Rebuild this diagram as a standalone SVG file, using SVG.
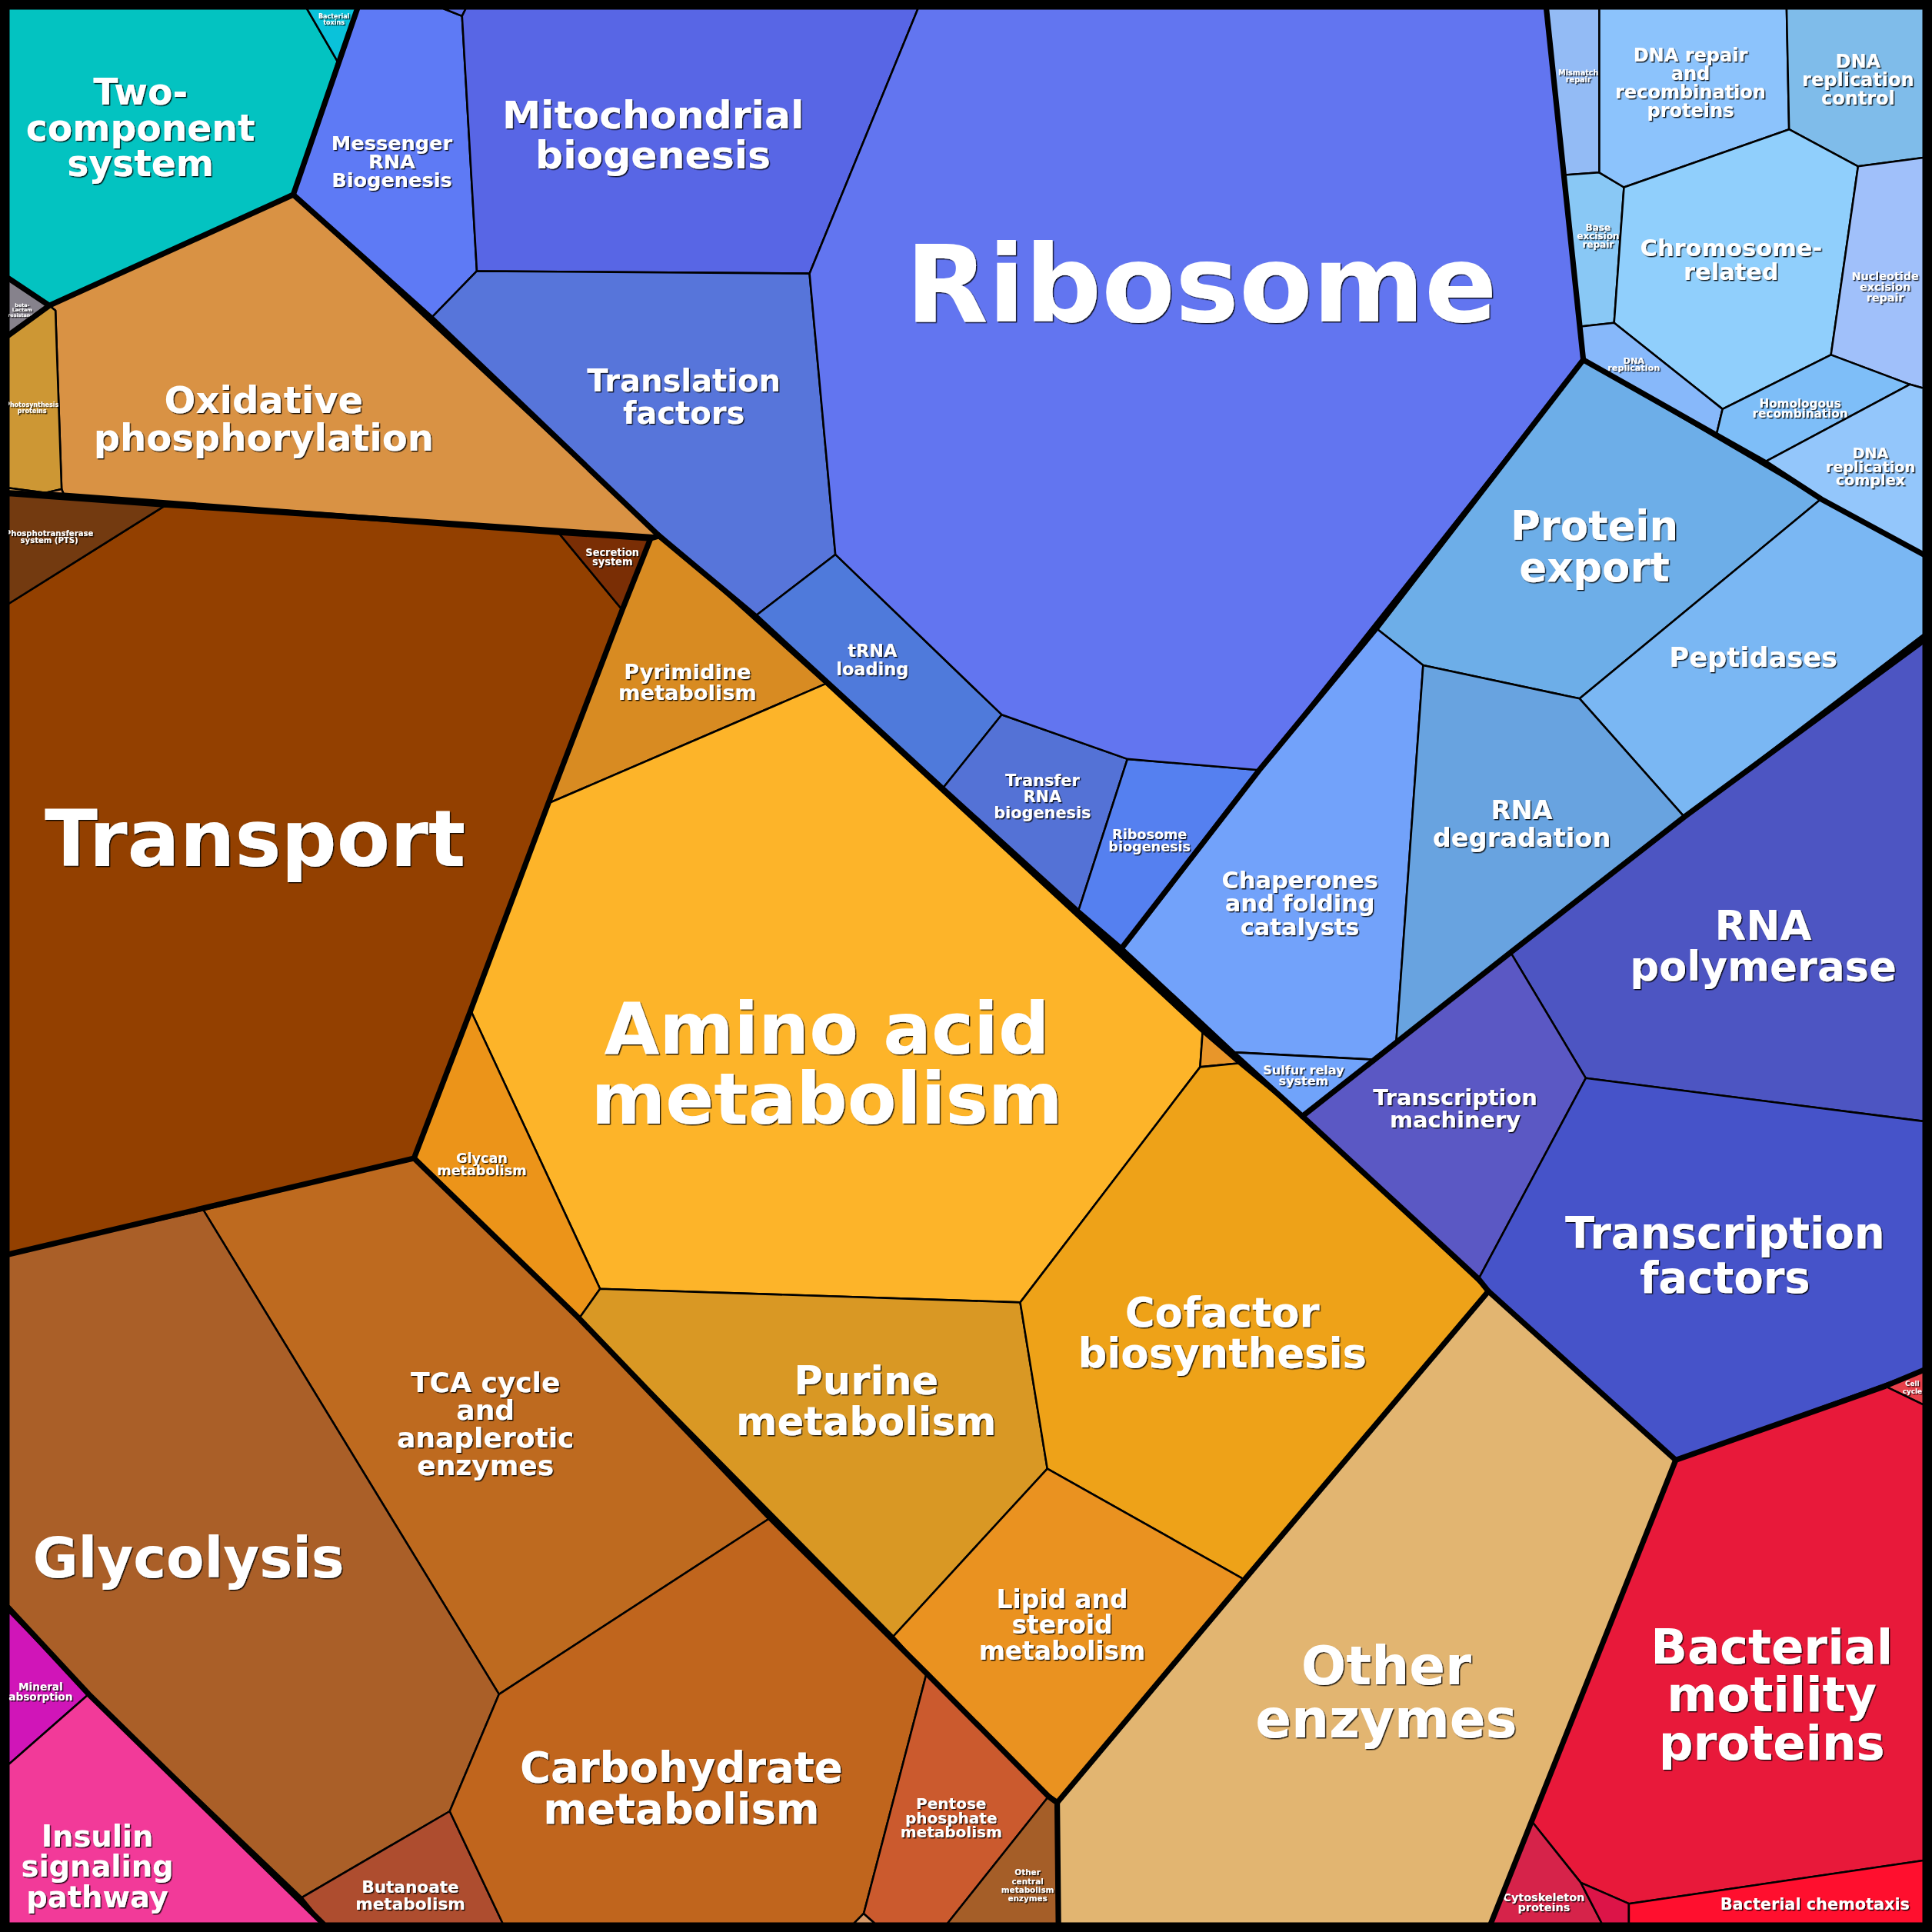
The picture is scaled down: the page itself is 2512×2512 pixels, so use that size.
<svg xmlns="http://www.w3.org/2000/svg" width="2512" height="2512" viewBox="0 0 2512 2512">
<defs>
<style>
polygon{stroke:#000;stroke-width:1.6;stroke-linejoin:round}
.b{fill:none;stroke:#000;stroke-width:4.5;stroke-linejoin:round;stroke-linecap:round}
text{font-family:"DejaVu Sans",Verdana,sans-serif;font-weight:bold;fill:#fff;text-anchor:middle;filter:url(#sh)}
.c{font-family:"DejaVu Sans Condensed","DejaVu Sans",sans-serif}
</style>
<filter id="sh" x="-10%" y="-10%" width="120%" height="130%"><feDropShadow dx="0.9" dy="0.9" stdDeviation="0.4" flood-color="#000" flood-opacity="0.85"/></filter>
</defs>
<rect width="2512" height="2512" fill="#000"/>
<g transform="scale(1.60204)">
<g id="two-component"><polygon fill="#03C3C1" points="7,7 249,7 274,50 238,158 40,248 7,226"/><text font-size="29.5" x="114" y="85">Two-</text><text font-size="29.5" x="114" y="114">component</text><text font-size="29.5" x="114" y="143">system</text></g>
<g id="bacterial-toxins"><polygon fill="#0AC2DA" points="249,7 290,7 274,50"/><text font-size="5" x="271" y="15">Bacterial</text><text font-size="5" x="271" y="20">toxins</text></g>
<g id="beta-lactam"><polygon fill="#86828C" points="7,226 40,248 7,272"/><text font-size="4" x="18" y="249">beta-</text><text font-size="4" x="18" y="253">Lactam</text><text font-size="4" x="18" y="257">resistance</text></g>
<g id="messenger-rna"><polygon fill="#5E7AF5" points="290,7 360,7 375,13 387,220 350,258 238,158 274,50"/><text font-size="16" x="318" y="122">Messenger</text><text font-size="16" x="318" y="137">RNA</text><text font-size="16" x="318" y="152">Biogenesis</text></g>
<g id="tiny-top"><polygon fill="#5E70E8" points="360,7 378,7 375,13"/></g>
<g id="mitochondrial"><polygon fill="#5866E5" points="375,13 378,7 745,7 657,222 387,220"/><text font-size="31.5" x="530" y="104">Mitochondrial</text><text font-size="31.5" x="530" y="137">biogenesis</text></g>
<g id="translation-factors"><polygon fill="#5775DA" points="387,220 657,222 678,450 613,500 535,435 350,258"/><text font-size="25" x="555" y="318">Translation</text><text font-size="25" x="555" y="344">factors</text></g>
<g id="trna-loading"><polygon fill="#4F7ADB" points="613,500 678,450 813,580 765,640"/><text font-size="14" x="708" y="533">tRNA</text><text font-size="14" x="708" y="548">loading</text></g>
<g id="transfer-rna"><polygon fill="#5472D6" points="765,640 813,580 915,616 875,740"/><text font-size="13" x="846" y="638">Transfer</text><text font-size="13" x="846" y="651">RNA</text><text font-size="13" x="846" y="664">biogenesis</text></g>
<g id="ribosome-biogenesis"><polygon fill="#5580F0" points="875,740 915,616 1022,625 910,770"/><text font-size="11" x="933" y="681">Ribosome</text><text font-size="11" x="933" y="691">biogenesis</text></g>
<g id="ribosome"><polygon fill="#6275F0" points="745,7 1255,7 1285,292 1022,625 915,616 813,580 678,450 657,222"/><text font-size="87" x="975" y="261">Ribosome</text></g>
<g id="mismatch"><polygon fill="#93BBF5" points="1255,7 1298,7 1298,140 1270,142"/><text font-size="6" x="1281" y="61">Mismatch</text><text font-size="6" x="1281" y="67">repair</text></g>
<g id="base-excision"><polygon fill="#89C8F5" points="1270,142 1298,140 1318,152 1310,262 1283,265"/><text font-size="7.5" x="1297" y="187">Base</text><text font-size="7.5" x="1297" y="194">excision</text><text font-size="7.5" x="1297" y="201">repair</text></g>
<g id="dna-repair"><polygon fill="#8CC3FC" points="1298,7 1450,7 1452,105 1318,152 1298,140"/><text font-size="15" x="1372" y="50">DNA repair</text><text font-size="15" x="1372" y="65">and</text><text font-size="15" x="1372" y="80">recombination</text><text font-size="15" x="1372" y="95">proteins</text></g>
<g id="dna-replication-control"><polygon fill="#7FBCEA" points="1450,7 1561,7 1561,128 1508,135 1452,105"/><text font-size="15" x="1508" y="55">DNA</text><text font-size="15" x="1508" y="70">replication</text><text font-size="15" x="1508" y="85">control</text></g>
<g id="chromosome"><polygon fill="#90CFFC" points="1318,152 1452,105 1508,135 1486,288 1398,332 1310,262"/><text font-size="19" x="1405" y="208">Chromosome-</text><text font-size="19" x="1405" y="227">related</text></g>
<g id="nucleotide-excision"><polygon fill="#A0C0FA" points="1508,135 1561,128 1561,315 1550,312 1486,288"/><text font-size="9" x="1530" y="227">Nucleotide</text><text font-size="9" x="1530" y="236">excision</text><text font-size="9" x="1530" y="245">repair</text></g>
<g id="dna-replication"><polygon fill="#87B8FA" points="1283,265 1310,262 1398,332 1393,353 1285,292"/><text font-size="7" x="1326" y="295">DNA</text><text font-size="7" x="1326" y="301">replication</text></g>
<g id="homologous"><polygon fill="#7EBEF8" points="1398,332 1486,288 1550,312 1432,375 1393,353"/><text font-size="9.5" x="1461" y="331">Homologous</text><text font-size="9.5" x="1461" y="339">recombination</text></g>
<g id="dna-replication-complex"><polygon fill="#93C6FB" points="1432,375 1550,312 1561,315 1561,450 1478,405"/><text font-size="12" x="1518" y="372">DNA</text><text font-size="12" x="1518" y="383">replication</text><text font-size="12" x="1518" y="394">complex</text></g>
<g id="protein-export"><polygon fill="#6DAEE8" points="1285,292 1478,405 1282,567 1155,540 1117,510"/><text font-size="33" x="1294" y="438">Protein</text><text font-size="33" x="1294" y="472">export</text></g>
<g id="peptidases"><polygon fill="#7AB7F3" points="1478,405 1561,450 1561,515 1367,663 1282,567"/><text font-size="22" x="1423" y="541">Peptidases</text></g>
<g id="chaperones"><polygon fill="#72A2FA" points="1117,510 1155,540 1133,848 1116,860 1000,854 910,770 1022,625"/><text font-size="19" x="1055" y="721">Chaperones</text><text font-size="19" x="1055" y="740">and folding</text><text font-size="19" x="1055" y="759">catalysts</text></g>
<g id="sulfur-relay"><polygon fill="#70A3FA" points="1000,854 1116,860 1057,906"/><text font-size="10" x="1058" y="872">Sulfur relay</text><text font-size="10" x="1058" y="881">system</text></g>
<g id="rna-degradation"><polygon fill="#68A3E0" points="1155,540 1282,567 1367,663 1226,773 1133,848"/><text font-size="21" x="1235" y="665">RNA</text><text font-size="21" x="1235" y="687">degradation</text></g>
<g id="rna-polymerase"><polygon fill="#4D55C2" points="1226,773 1367,663 1561,520 1561,910 1287,875"/><text font-size="33" x="1431" y="763">RNA</text><text font-size="33" x="1431" y="796">polymerase</text></g>
<g id="transcription-machinery"><polygon fill="#5B58C4" points="1057,906 1226,773 1287,875 1200,1038"/><text font-size="18" x="1181" y="897">Transcription</text><text font-size="18" x="1181" y="915">machinery</text></g>
<g id="transcription-factors"><polygon fill="#4653C9" points="1287,875 1561,910 1561,1112 1360,1185 1208,1048 1200,1038"/><text font-size="35" x="1400" y="1013">Transcription</text><text font-size="35" x="1400" y="1049">factors</text></g>
<g id="cell-cycle"><polygon fill="#E8404A" points="1530,1125 1561,1112 1561,1140"/><text font-size="5.5" x="1552" y="1125">Cell</text><text font-size="5.5" x="1552" y="1131">cycle</text></g>
<g id="bacterial-motility"><polygon fill="#E8193A" points="1360,1185 1530,1125 1561,1140 1561,1510 1322,1545 1283,1528 1243,1478"/><text font-size="39" x="1438" y="1350">Bacterial</text><text font-size="39" x="1438" y="1389">motility</text><text font-size="39" x="1438" y="1428">proteins</text></g>
<g id="cytoskeleton"><polygon fill="#D6234A" points="1243,1478 1283,1528 1300,1561 1210,1561"/><text font-size="9" x="1253" y="1543">Cytoskeleton</text><text font-size="9" x="1253" y="1551">proteins</text></g>
<g id="tiny-motility"><polygon fill="#DC1448" points="1283,1528 1322,1545 1322,1561 1300,1561"/></g>
<g id="bacterial-chemotaxis"><polygon fill="#FF0F2E" points="1322,1545 1561,1510 1561,1561 1322,1561"/><text font-size="13" x="1473" y="1550">Bacterial chemotaxis</text></g>
<g id="other-enzymes"><polygon fill="#E2B571" points="858,1463 1010,1282 1208,1048 1360,1185 1210,1561 859,1561"/><text font-size="43" x="1125" y="1367">Other</text><text font-size="43" x="1125" y="1410">enzymes</text></g>
<g id="pyrimidine"><polygon fill="#D88B22" points="535,433 670,555 445,652 505,495 528,437"/><text font-size="17" x="558" y="551">Pyrimidine</text><text font-size="17" x="558" y="568">metabolism</text></g>
<g id="amino-acid"><polygon fill="#FDB429" points="445,652 670,555 976,838 974,866 828,1057 487,1046 382,820"/><text font-size="58" x="671" y="855">Amino acid</text><text font-size="58" x="671" y="912">metabolism</text></g>
<g id="tiny-aa"><polygon fill="#E8962A" points="976,838 1005,863 974,866"/></g>
<g id="glycan"><polygon fill="#EC9419" points="382,820 487,1046 470,1070 336,940"/><text font-size="11" x="391" y="944">Glycan</text><text font-size="11" x="391" y="954">metabolism</text></g>
<g id="purine"><polygon fill="#D99824" points="487,1046 828,1057 850,1192 725,1328 470,1070"/><text font-size="32" x="703" y="1132">Purine</text><text font-size="32" x="703" y="1165">metabolism</text></g>
<g id="cofactor"><polygon fill="#EEA218" points="828,1057 974,866 1005,863 1057,906 1208,1048 1010,1282 850,1192"/><text font-size="33" x="992" y="1077">Cofactor</text><text font-size="33" x="992" y="1110">biosynthesis</text></g>
<g id="lipid"><polygon fill="#EA9220" points="850,1192 1010,1282 858,1463 752,1358 725,1328"/><text font-size="20.5" x="862" y="1305">Lipid and</text><text font-size="20.5" x="862" y="1326">steroid</text><text font-size="20.5" x="862" y="1347">metabolism</text></g>
<g id="tca"><polygon fill="#BE6A1F" points="336,940 470,1070 625,1232 405,1375 165,982"/><text font-size="22.5" x="394" y="1130">TCA cycle</text><text font-size="22.5" x="394" y="1152">and</text><text font-size="22.5" x="394" y="1175">anaplerotic</text><text font-size="22.5" x="394" y="1197">enzymes</text></g>
<g id="glycolysis"><polygon fill="#AA5F28" points="7,1018 165,982 405,1375 365,1470 245,1540 72,1375 7,1308"/><text font-size="45" x="153" y="1280">Glycolysis</text></g>
<g id="butanoate"><polygon fill="#AE4D2F" points="245,1540 365,1470 408,1561 262,1561"/><text font-size="13.5" x="333" y="1536">Butanoate</text><text font-size="13.5" x="333" y="1550">metabolism</text></g>
<g id="carbohydrate"><polygon fill="#C0651D" points="405,1375 625,1232 752,1358 701,1553 693,1561 408,1561 365,1470"/><text font-size="34" x="553" y="1446">Carbohydrate</text><text font-size="34" x="553" y="1480">metabolism</text></g>
<g id="tiny-carb"><polygon fill="#D89A68" points="701,1553 710,1561 693,1561"/></g>
<g id="pentose"><polygon fill="#CB5A2E" points="752,1358 851,1458 769,1561 710,1561 701,1553"/><text font-size="12.5" x="772" y="1468">Pentose</text><text font-size="12.5" x="772" y="1480">phosphate</text><text font-size="12.5" x="772" y="1491">metabolism</text></g>
<g id="other-central"><polygon fill="#A55E28" points="851,1458 858,1463 859,1561 769,1561"/><text font-size="6.5" x="834" y="1522">Other</text><text font-size="6.5" x="834" y="1529">central</text><text font-size="6.5" x="834" y="1536">metabolism</text><text font-size="6.5" x="834" y="1543">enzymes</text></g>
<g id="transport"><polygon fill="#934000" points="133,411 453,432 505,495 445,652 382,820 336,940 7,1018 7,490"/><text font-size="63" x="207" y="703">Transport</text></g>
<g id="pts"><polygon fill="#733A10" points="7,402 133,411 7,490"/><text class="c" font-size="7" x="40" y="435">Phosphotransferase</text><text class="c" font-size="7" x="40" y="441">system (PTS)</text></g>
<g id="secretion"><polygon fill="#7A2E05" points="453,432 528,437 505,495"/><text class="c" font-size="9" x="497" y="451">Secretion</text><text class="c" font-size="9" x="497" y="459">system</text></g>
<g id="oxidative"><polygon fill="#D99244" points="40,248 238,158 535,435 52,402 50,397 45,252"/><text font-size="30" x="214" y="335">Oxidative</text><text font-size="30" x="214" y="366">phosphorylation</text></g>
<g id="photosynthesis"><polygon fill="#CD9734" points="7,272 40,248 45,252 50,397 37,400 7,396"/><text font-size="5" x="26" y="330">Photosynthesis</text><text font-size="5" x="26" y="335">proteins</text></g>
<g id="tiny-ox"><polygon fill="#D8A050" points="7,396 37,400 7,401"/><polygon fill="#E09A60" points="37,400 50,397 52,402"/></g>
<g id="mineral"><polygon fill="#D015B8" points="7,1308 72,1375 7,1432"/><text font-size="8.5" x="33" y="1372">Mineral</text><text font-size="8.5" x="33" y="1380">absorption</text></g>
<g id="insulin"><polygon fill="#F23A99" points="7,1432 72,1375 262,1561 7,1561"/><text font-size="24" x="79" y="1499">Insulin</text><text font-size="24" x="79" y="1523">signaling</text><text font-size="24" x="79" y="1548">pathway</text></g>
<g id="connectors">
<path class="b" d="M290,7 L238,158 L40,248 L7,226 M40,248 L7,272"/>
<path class="b" d="M238,158 L350,258 L535,435 L613,500 L765,640 L875,740 L910,770 L1000,854 L1057,906 L1200,1038 L1208,1048 L1360,1185 L1530,1125 L1561,1112"/>
<path class="b" d="M7,400 L52,402 L453,432 L528,437 L535,435 M528,437 L505,495 L445,652 L382,820 L336,940 L7,1018"/>
<path class="b" d="M336,940 L470,1070 L625,1232 L752,1358 L851,1458 L858,1463 L859,1561"/>
<path class="b" d="M858,1463 L1010,1282 L1208,1048 M1360,1185 L1210,1561"/>
<path class="b" d="M1255,7 L1285,292 L1393,353 L1432,375 L1478,405 L1561,450 M1285,292 L1117,510 L1022,625 L910,770"/>
<path class="b" d="M1057,906 L1226,773 L1367,663 L1561,520"/>
<path class="b" d="M7,1305 L72,1375 L262,1561"/>
</g>
<rect x="3.5" y="3.5" width="1561" height="1561" fill="none" stroke="#000" stroke-width="7"/>
</g>
</svg>
